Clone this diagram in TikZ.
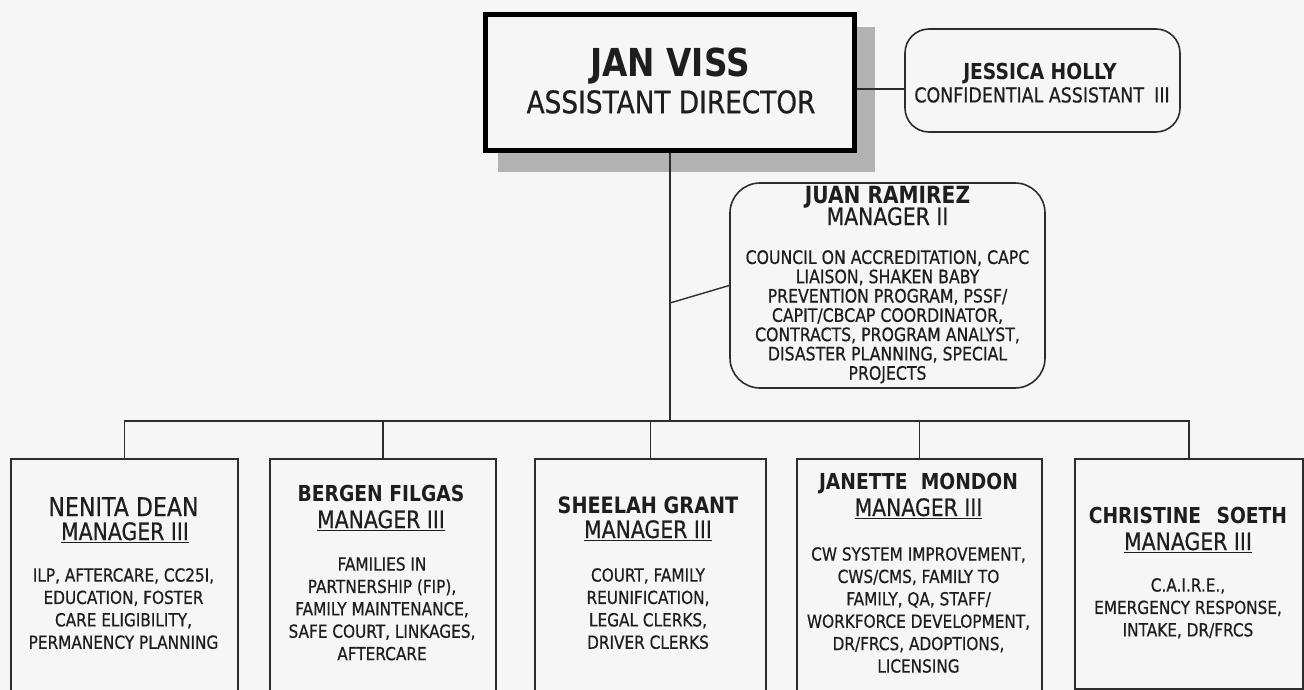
\documentclass[tikz,border=0pt]{standalone}
\usepackage{fontspec}
\setmainfont{DejaVu Sans}[FakeStretch=0.85, UprightFeatures={FakeBold=0.6}]
\definecolor{bgc}{RGB}{246,246,246}
\definecolor{linec}{RGB}{45,45,45}
\definecolor{textc}{RGB}{30,30,30}
\definecolor{shadowc}{RGB}{178,178,178}
\begin{document}
\begin{tikzpicture}[x=1pt,y=-1pt,
  box/.style={draw=linec, line width=1.6pt, fill=bgc, inner sep=0pt, anchor=north west},
  rbox/.style={draw=linec, line width=1.6pt, fill=bgc, inner sep=0pt, rounded corners=24pt},
  txt/.style={anchor=north, inner sep=0pt, align=center, text=textc},
  pname/.style={txt, font=\bfseries\fontsize{22}{26}\selectfont},
  prole/.style={txt, font=\fontsize{24}{28}\selectfont},
  pbody/.style={txt, font=\fontsize{18}{22.4}\selectfont},
  wire/.style={draw=linec, line width=1.4pt}]
\fill[bgc] (0,0) rectangle (1304,690);
\useasboundingbox (0,0) rectangle (1304,690);
% top box with shadow
\fill[shadowc] (498,27) rectangle (875,172);
\node[draw=black, line width=5pt, fill=bgc, minimum width=369pt, minimum height=136pt, inner sep=0pt] (jan) at (670,82.5) {};
\node[txt, font=\bfseries\fontsize{38.5}{44}\selectfont] (janname) at (670,48) {JAN VISS};
\node[txt, font=\fontsize{31}{35}\selectfont] (janrole) at (671,90) {ASSISTANT DIRECTOR};
% Jessica
\node[rbox, minimum width=275pt, minimum height=103pt] (jessica) at (1042.5,80.5) {};
\node[txt, font=\bfseries\fontsize{22}{26}\selectfont] (jessname) at (1040,63) {JESSICA HOLLY};
\node[txt, font=\fontsize{20.5}{24}\selectfont] (jessrole) at (1042,87) {CONFIDENTIAL ASSISTANT\hspace{0.5em}III};
% Juan
\node[rbox, rounded corners=30pt, minimum width=315pt, minimum height=205pt] (juan) at (887.5,285.5) {};
\node[txt, font=\bfseries\fontsize{23.7}{27}\selectfont] (juanname) at (887.5,186) {JUAN RAMIREZ};
\node[prole] (juanrole) at (887.5,207) {MANAGER II};
\node[pbody, font=\fontsize{18.5}{19.3}\selectfont] (juanbody) at (887.5,250) {COUNCIL ON ACCREDITATION, CAPC\\LIAISON, SHAKEN BABY\\PREVENTION PROGRAM, PSSF/\\CAPIT/CBCAP COORDINATOR,\\CONTRACTS, PROGRAM ANALYST,\\DISASTER PLANNING, SPECIAL\\PROJECTS};
% bottom boxes
\node[box, minimum width=227pt, minimum height=236pt] (nenita) at (10,458) {};
\node[box, minimum width=226pt, minimum height=236pt] (bergen) at (269,458) {};
\node[box, minimum width=231pt, minimum height=236pt] (sheelah) at (534,458) {};
\node[box, minimum width=245pt, minimum height=236pt] (janette) at (796,458) {};
\node[box, minimum width=228pt, minimum height=230pt] (christine) at (1074,458) {};
% Nenita
\node[txt, font=\fontsize{26}{30}\selectfont] (nenname) at (123.5,497) {NENITA DEAN};
\node[prole] (nenrole) at (125,522) {\underline{MANAGER III}};
\node[pbody] (nenbody) at (123.5,568) {ILP, AFTERCARE, CC25I,\\EDUCATION, FOSTER\\CARE ELIGIBILITY,\\PERMANENCY PLANNING};
% Bergen
\node[pname] (bername) at (381,485) {BERGEN FILGAS};
\node[prole] (berrole) at (381,510) {\underline{MANAGER III}};
\node[pbody] (berbody) at (382,557) {FAMILIES IN\\PARTNERSHIP (FIP),\\FAMILY MAINTENANCE,\\SAFE COURT, LINKAGES,\\AFTERCARE};
% Sheelah
\node[pname, font=\bfseries\fontsize{22.6}{26}\selectfont] (shename) at (648,497) {SHEELAH GRANT};
\node[prole] (sherole) at (648,520) {\underline{MANAGER III}};
\node[pbody] (shebody) at (648,568) {COURT, FAMILY\\REUNIFICATION,\\LEGAL CLERKS,\\DRIVER CLERKS};
% Janette
\node[pname] (janname2) at (918.5,473) {JANETTE\hspace{0.6em}MONDON};
\node[prole] (janrole2) at (918.5,498) {\underline{MANAGER III}};
\node[pbody] (janbody2) at (918.5,547) {CW SYSTEM IMPROVEMENT,\\CWS/CMS, FAMILY TO\\FAMILY, QA, STAFF/\\WORKFORCE DEVELOPMENT,\\DR/FRCS, ADOPTIONS,\\LICENSING};
% Christine
\node[pname] (chrname) at (1188,507) {CHRISTINE\hspace{0.7em}SOETH};
\node[prole] (chrrole) at (1188,532) {\underline{MANAGER III}};
\node[pbody] (chrbody) at (1188,578) {C.A.I.R.E.,\\EMERGENCY RESPONSE,\\INTAKE, DR/FRCS};
% connectors
\coordinate (bus) at (670,421);
\coordinate (juanjoin) at (670,303);
\draw[wire] (jan.south) -- (bus);
\draw[wire] (jan.east |- 0,89) -- (jessica.west |- 0,89);
\draw[wire] (juanjoin) -- (juan.west);
\draw[wire] (nenita.north) |- (bus) -| (christine.north);
\draw[wire] (bergen.north) -- (bergen.north |- bus);
\draw[wire] (sheelah.north) -- (sheelah.north |- bus);
\draw[wire] (janette.north) -- (janette.north |- bus);
\end{tikzpicture}
\end{document}
